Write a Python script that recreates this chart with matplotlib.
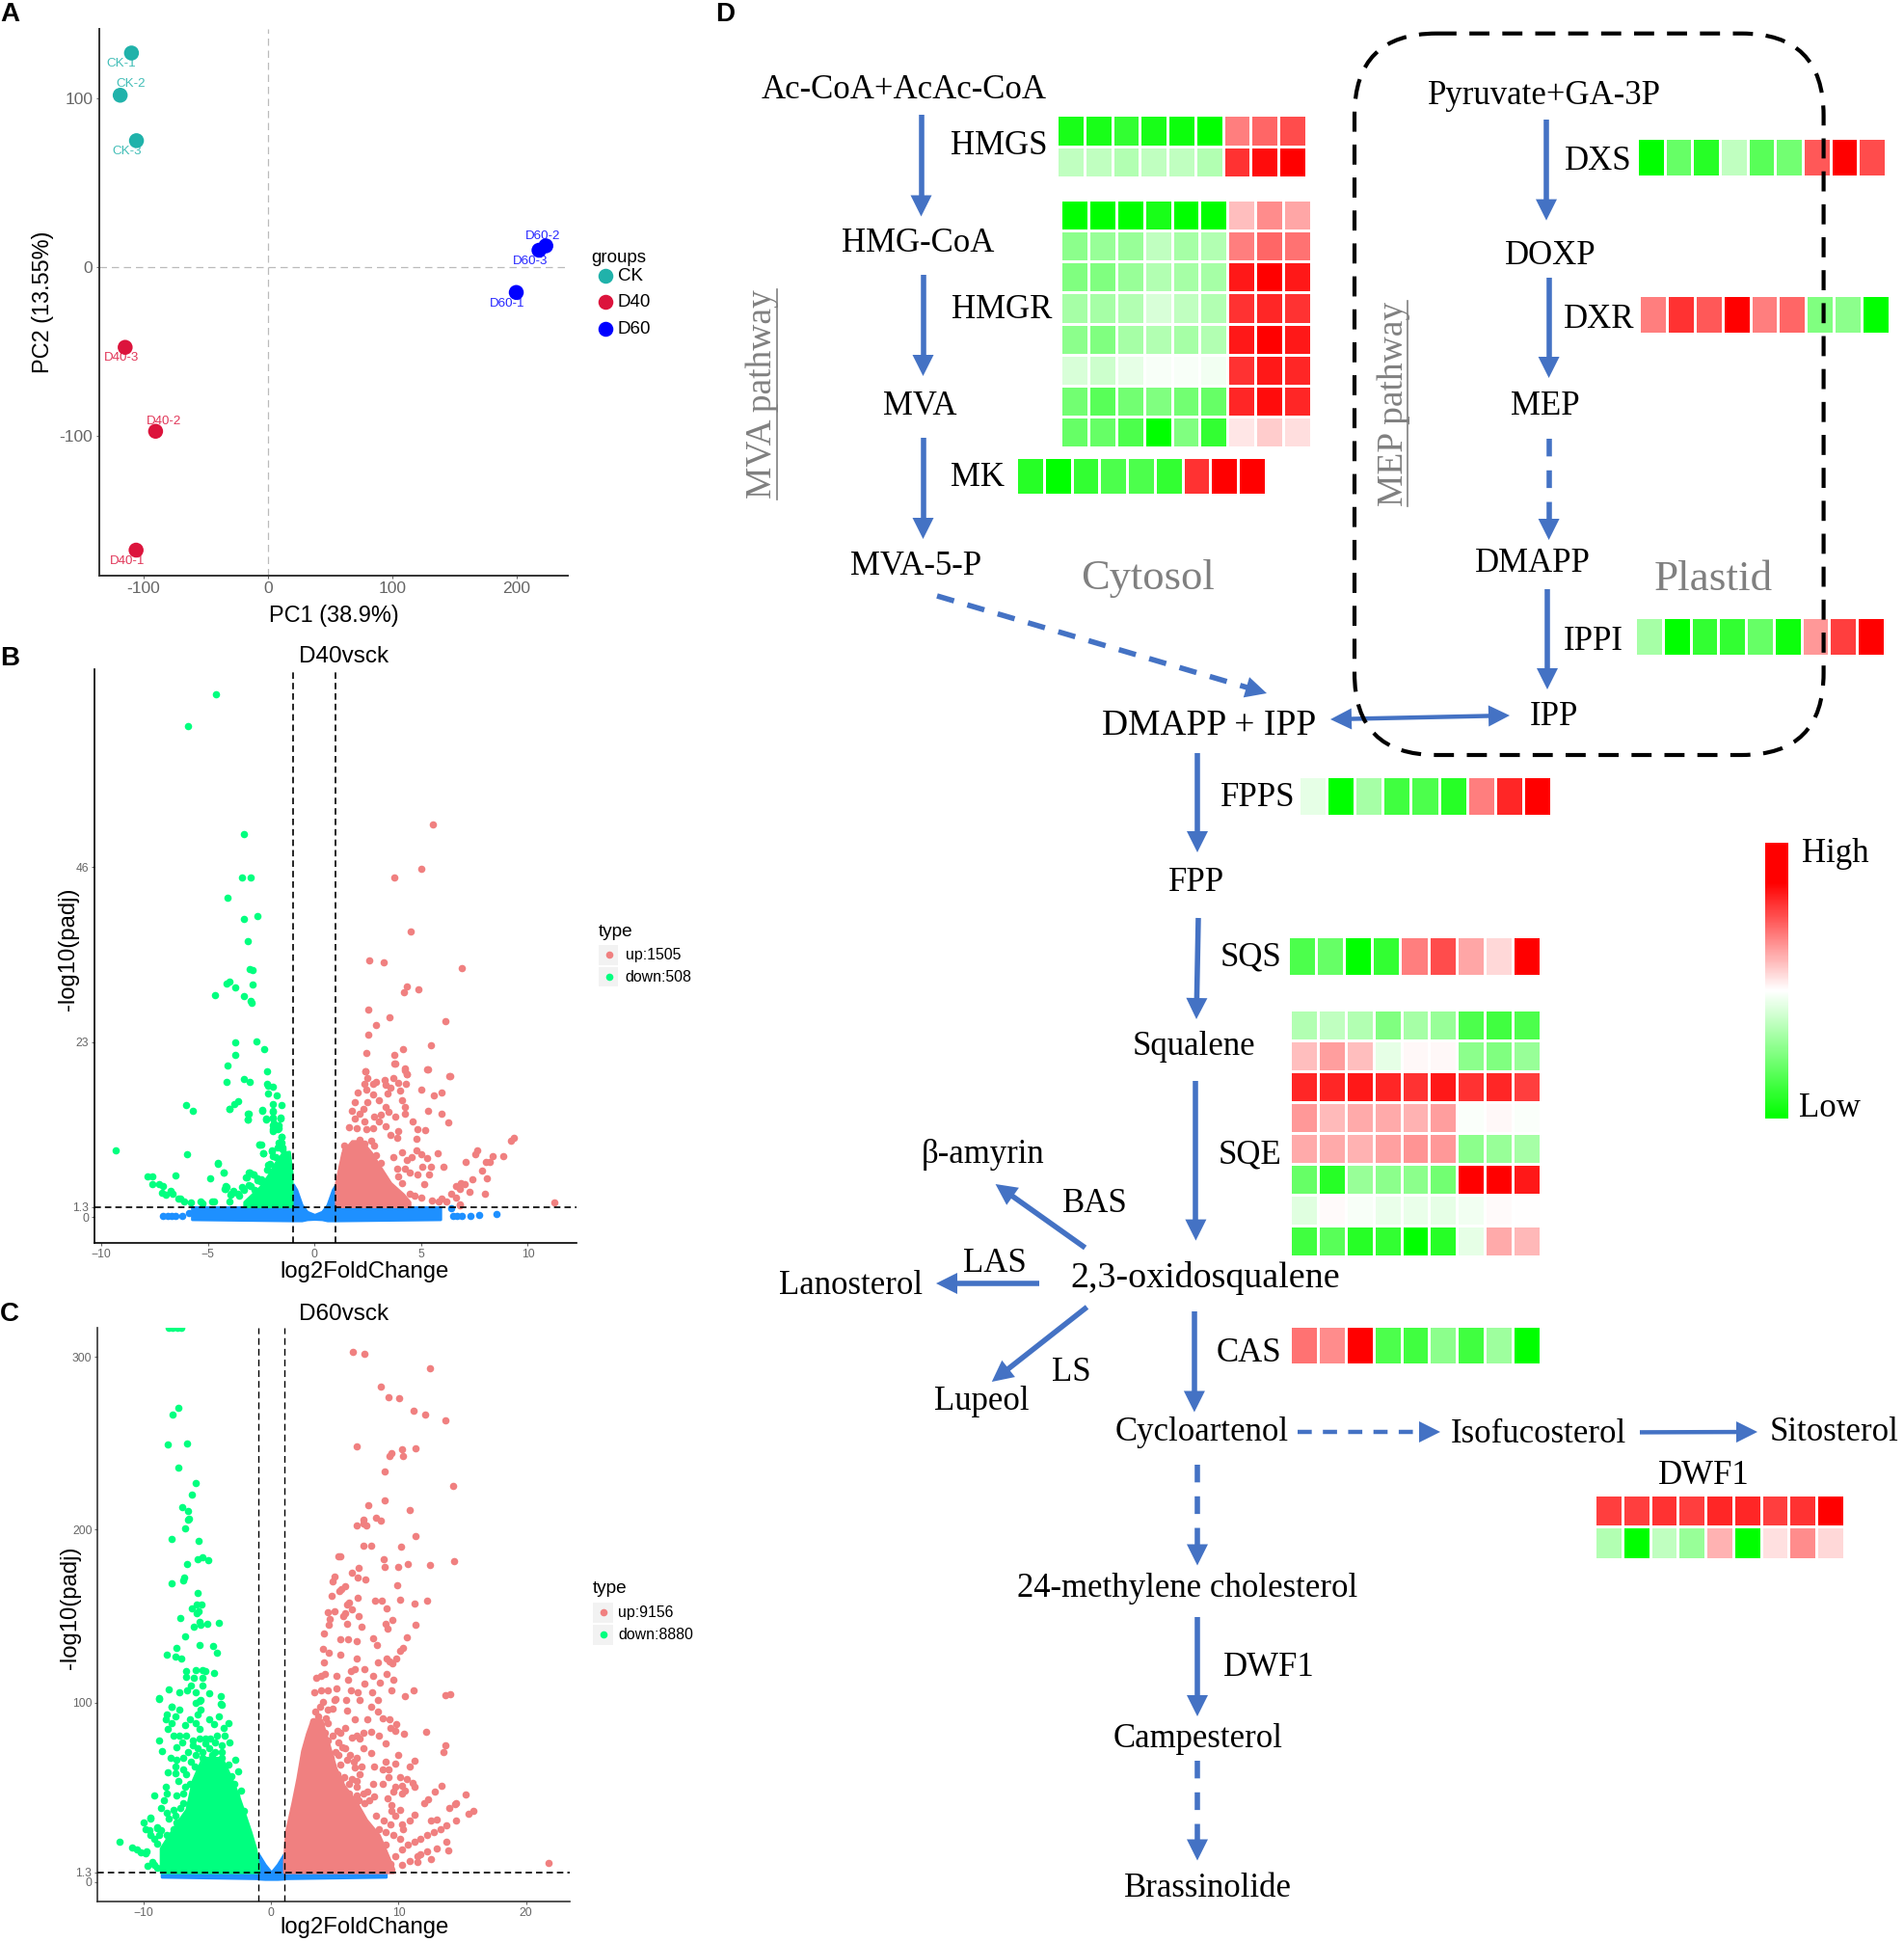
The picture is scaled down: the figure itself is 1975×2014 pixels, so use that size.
import numpy as np
import matplotlib
matplotlib.use("Agg")
import matplotlib.pyplot as plt
from matplotlib.colors import LinearSegmentedColormap
from matplotlib.patches import FancyBboxPatch, Polygon, Rectangle
from matplotlib.lines import Line2D

W, H = 1975, 2014
SANS = "Liberation Sans"
SERIF = "Liberation Serif"

# ---------- Panel A ----------
pca_names = ["CK-1", "CK-2", "CK-3", "D40-1", "D40-2", "D40-3", "D60-1", "D60-2", "D60-3"]
pca_pc1 = [-109.7, -118.8, -105.7, -106, -90.3, -114.8, 200, 223.8, 218.3]
pca_pc2 = [126.9, 101.9, 75, -167.5, -97.1, -47.4, -14.9, 12.7, 10.1]
pca_lab_x = [-117.7, -110.4, -113.3, -113.3, -83.7, -117.7, 192.7, 221.6, 211]
pca_lab_y = [120.7, 108.4, 68.7, -174, -91.1, -53.6, -21.4, 18.5, 3.8]
pca_groups = ["CK", "CK", "CK", "D40", "D40", "D40", "D60", "D60", "D60"]
group_colors = {"CK": "#20B2AA", "D40": "#DC143C", "D60": "#0000FF"}

# ---------- Panel B ----------
b_down = [(-4.63,68.7),(-5.93,64.5),(-3.33,50.3),(-3.42,44.6),(-2.99,44.6),(-4.10,41.9),(-3.31,39.2),(-2.67,39.5),
 (-3.14,36.2),(-3.05,32.6),(-2.92,32.5),(-4.14,30.7),(-3.97,30.9),(-3.71,30.2),(-2.92,30.5),(-4.65,29.1),(-3.29,29.0),
 (-3.01,28.4),(-2.97,28.1),(-3.71,22.9),(-2.73,23.1),(-2.37,22.1),(-3.71,21.3),(-4.06,19.9),(-2.22,19.2),(-3.33,18.1),
 (-3.03,17.7),(-4.12,17.8),(-2.22,17.5),(-2.16,17.3),(-1.94,17.1),(-2.16,16.2),(-1.77,16.0),(-3.59,15.2),(-3.78,14.9),
 (-3.97,14.2),(-6.04,14.7),(-5.70,14.0),(-1.94,14.9),(-1.56,14.7),(-2.45,14.1),(-1.94,14.0),(-3.09,13.6),(-3.12,12.8),
 (-2.26,12.9),(-1.94,13.1),(-1.58,13.1),(-1.90,12.3),(-1.69,12.0),(-1.94,11.5),(-1.73,11.6),(-1.56,10.5),(-1.69,9.8),
 (-1.52,9.2),(-2.58,9.5),(-2.50,9.5),(-9.31,8.8),(-5.98,8.2),(-4.53,7.1),(-2.41,8.4),(-2.01,8.6),(-1.84,7.9),(-2.16,6.8),
 (-6.51,5.5),(-7.85,5.3),(-7.60,5.3),(-4.27,5.8),(-4.87,5.1),(-3.05,5.9),(-2.84,5.6),(-3.22,5.2),(-2.69,5.1),(-2.48,4.9),
 (-7.60,4.3),(-7.28,4.3),(-7.11,4.1),(-4.14,4.0),(-4.18,3.7),(-3.82,3.4),(-3.91,3.1),(-7.17,3.2),(-6.75,3.4),(-6.96,2.9),
 (-6.64,3.0),(-6.30,2.4),(-6.10,2.1),(-5.79,1.9),(-5.36,2.0),(-5.25,1.8),(-4.82,2.0),(-6.4,2.4),(-3.6,3.0),(-3.3,3.6),(-3.1,4.2),(-2.8,3.6)]
b_down_dense = [(-3.98,14.2),(-3.12,13.6),(-3.12,12.8),(-2.47,14),(-1.94,13.8),(-1.94,13),(-1.61,13),(-2.27,12.8),(-1.94,12.1),
 (-1.94,11.3),(-1.67,11.7),(-1.56,10.5),(-1.56,9.8),(-1.72,9.2),(-1.49,8.95),(-2.57,9.5),(-2.39,8.4),(-2.02,8.7),(-1.97,8),
 (-4.53,7),(-4.25,5.8),(-2.09,7),(-2.24,6.2),(-3.07,5.9),(-3.18,5.2),(-2.85,5.6),(-2.7,4.85),(-4.17,4.1),(-4.23,3.7),(-3.42,4),
 (-3.82,3.3),(-3.93,2.9),(-3.52,2.8),(-3.98,2),(-4.73,2),(-3,4.1),(-2.54,4.7)]
b_up = [(5.53,51.6),(4.99,45.7),(3.76,44.6),(4.53,37.5),(2.56,33.7),(3.24,33.5),(6.92,32.7),(4.35,30.3),(4.18,29.5),
 (4.87,29.9),(2.54,27.3),(3.50,26.3),(2.88,25.2),(6.15,25.7),(2.50,24.0),(5.46,22.6),(4.14,22.1),(3.74,21.3),(2.41,21.6),
 (3.78,20.1),(4.25,19.5),(4.35,18.8),(2.39,19.1),(5.31,19.4),(6.34,18.5),(9.35,10.4),(9.2,10),(11.25,1.9),(6.81,1.6)]
b_up_dense = [(2.4,19.1),(2.47,18.2),(2.35,17.5),(2.73,17.5),(2.88,17.7),(2.43,16.8),(2.02,16.4),(2.73,16.1),(1.87,15.1),(1.75,13.9),
 (2.28,14.2),(2.13,13.6),(2.47,15.1),(3.03,15.3),(3.33,14.4),(3.48,13.8),(1.9,13),(2.35,12.5),(2.8,13.2),(3.11,13.4),(3.03,12.5),
 (2.73,11.7),(1.6,11.8),(1.97,11.7),(2.43,11.5),(3.33,11.9),(3.78,13.2),(4.24,13.6),(4.61,12.5),(3.93,11.3),(3.56,10.8),(3.86,10.4),
 (2.13,10.2),(2.65,10),(2.35,9.6),(2.8,9.4),(1.37,9.4),(1.45,8.7),(2.05,9.2),(4.08,8.5),(3.71,7.9),(2.88,8.1),(3.11,7.1),(4.76,10.3),
 (4.84,11.5),(5.18,11.4),(4.79,8.8),(4.99,8.3),(5.29,7.8),(4.54,7.9),(4.31,7.5),(5.44,6.6),(5.06,6.6),(4.24,6.4),(3.86,6.4),(3.93,5.4),
 (4.08,4.5),(4.46,5.8),(4.84,5.6),(5.37,5.6),(5.14,4.3),(6.04,6.6),(5.79,8.4),(7.1,7.2),(7.63,8.7),(7.55,8.3),(8.05,7.2),(8.35,8),
 (8.83,8),(8.23,7.3),(7.85,6.1),(8.08,5.1),(7.4,4.9),(6.87,4.5),(6.65,4.1),(7.02,4.3),(7.25,3.3),(6.8,3.7),(7.97,3),(6.42,3),(6.65,2.6),
 (5.97,2.4),(6.19,2),(5.52,2.2),(5.82,2),(4.99,2.6),(4.69,2.8),(4.46,3),(5.34,14),(5.97,13.6),(6.27,12.4),(6.3,18.5),(5.97,16.3),
 (5.59,16),(4.99,16.7),(5.29,19.4),(4.24,19.3),(4.31,18.8),(3.71,18.2),(3.29,18),(3.33,17.4),(3.93,17.6),(4.28,17.5),(4,16.6),(3.56,17),
 (3.41,16.2),(4.08,15.3),(4.24,14.4),(3.75,20.1),(6.83,1.7)]
b_blue = [(-7.1,0.2),(-6.9,0.2),(-6.7,0.15),(-6.5,0.15),(-6.2,0.2),(-5.9,0.5),(6.4,1.2),(6.5,0.2),(6.7,0.2),(6.9,0.2),(7.3,0.2),(7.7,0.3),(8.55,0.4)]
b_down_env_x = [-3.3, -2.85, -2.55, -2.17, -1.87, -1.49, -1.19, -1.07]
b_down_env_y = [2.0, 3.2, 4.0, 5.5, 7.0, 8.5, 8.6, 5.8]
b_up_env_x = [1.0, 1.3, 1.75, 2.2, 2.65, 3.1, 3.56, 4.16, 4.46]
b_up_env_y = [4.5, 8.5, 10.0, 10.0, 8.5, 6.5, 4.5, 3.0, 2.0]
b_blue_x = [-5.75, -1.05, -1.0, -0.85, -0.6, -0.35, 0.0, 0.35, 0.6, 0.85, 1.0, 1.05, 5.9]
b_blue_top = [1.3, 1.3, 4.3, 3.6, 1.6, 0.7, 0.3, 0.7, 1.6, 3.6, 4.3, 1.3, 1.3]
b_blue_bot = [-0.3, -0.45, -0.45, -0.45, -0.45, -0.3, -0.25, -0.3, -0.45, -0.45, -0.45, -0.45, -0.3]

# ---------- Panel C ----------
c_down = [(-8.07,318),(-7.71,318),(-7.36,318),(-7.07,318),(-7.29,270.9),(-7.75,266.6),(-8.11,249.5),(-6.61,249.8),(-7.32,235.8),
 (-5.93,227.2),(-6.25,220.4),(-6.96,213.2),(-6.5,210.6),(-6.43,206.5),(-6.54,205.8),(-6.79,200.7),(-7.82,194.7),(-5.71,193.5),
 (-5.79,182.7),(-5.39,184.1),(-4.96,182.2),(-6.64,180.3),(-6.82,172.1),(-6.89,170.7),(-7.82,169),(-5.75,163.2),(-5.86,156.5),
 (-5.46,156.5),(-6.25,154.6),(-5.68,152.9),(-5.86,151.7),(-7.11,148.6),(-5.64,146.4),(-6.11,143.8),(-5,145.7),(-5.57,145),
 (-4.11,146.2),(-6.79,138.5),(-5.61,133.4),(-4.57,132.5),(-7.43,131.7),(-4.29,128.8),(-8.21,127.6),(-7.5,126.4),(-7.07,125.2),
 (-6.71,118),(-6.71,114.9),(-5.93,118.8),(-5.39,118.8),(-5.14,118),(-4.5,116.8),(-6.11,114.4),(-5.39,114.4),(-6.64,107.2),
 (-7.18,106),(-8.07,107.7),(-8.82,102.4),(-6.29,109.6),(-5.93,106),(-5.39,109.6),(-4.86,105.3),(-3.96,103.6),(-3.89,98.8),
 (-7.79,97.6),(-5.57,101.2),(-5.93,100),(-11.93,19),(-10.93,15.9),(-10.57,14.7),(-10.21,13),(-9.86,12.3),(-9.32,7.5),(-8.96,3.8),
 (-10.04,30.3),(-9.5,32.7),(-9.86,26.2),(-8.96,27.2),(-8.79,23.1),(-9.5,23.1)]
c_down_dense = [(-8.81,102.2),(-7.80,97.5),(-7.22,95.6),(-8.17,92.9),(-7.54,91.9),(-8.30,90.1),(-7.80,88.2),(-8.12,84.5),(-6.41,90.4),
 (-6.79,86.7),(-5.9,88.2),(-5.65,84.5),(-4.9,90.1),(-4.14,91.9),(-3.76,85.4),(-3.38,88.2),(-4.52,87.3),(-5.53,95.6),(-5.78,92.9),
 (-5.65,100.9),(-3.94,99),(-8.81,77.9),(-8.55,72),(-7.67,80.7),(-7.22,80.7),(-6.66,80.7),(-6.96,77),(-7.42,73.9),(-6.16,77.9),
 (-6.54,71.4),(-5.78,73.3),(-5.15,76.1),(-4.39,77),(-3.64,80.7),(-3.26,77),(-3.89,71.4),(-7.92,68.1),(-7.42,66.8),(-7.54,63),
 (-8.10,59.3),(-7.54,58.8),(-6.91,67.7),(-6.91,61.2),(-6.28,65.8),(-5.40,67.7),(-4.64,69.6),(-4.14,65.8),(-3.38,64),(-2.8,66.8),
 (-2.58,59.9),(-6.66,58.4),(-7.29,54.3),(-6.79,50.9),(-9.18,46.3),(-8.30,50.9),(-8.17,47.2),(-8.43,43.5),(-7.42,46.3),(-6.91,47.2),
 (-6.91,41.6),(-6.41,52.8),(-6.16,45.4),(-3.26,55.6),(-2.88,52.8),(-2.38,49.1),(-8.68,38.8),(-8.17,36),(-7.67,37.9),(-7.17,38.8),
 (-9.49,33.2),(-8.05,32.7),(-7.54,34.2),(-7.04,31.4),(-8.93,27.6),(-9.56,25.8),(-8.68,25.8),(-9.18,21.1),(-9.81,13.7),(-8.93,18.3),
 (-8.17,23),(-7.67,26.7),(-7.42,30.4),(-9.18,6),(-9.69,5.3),(-2.12,37),(-2.75,46.3),(-6.79,28.6),
 (-6.16,75.2),(-5.65,78.9),(-5.15,78.9),(-4.77,78.9),(-4.27,80.7),(-3.89,75.2),(-5.9,69.6),(-5.4,71.4),(-4.9,73.3),(-4.39,71.4),
 (-3.89,67.7),(-6.03,63),(-5.53,62.1),(-4.77,63),(-4.27,61.2),(-3.64,60.3),(-3.13,57.5)]
c_up = [(6.43,303.1),(7.32,301.9),(12.43,293.5),(8.61,282.9),(9.21,276.7),(10.07,276.4),(11.21,269),(12.11,266.6),(13.64,263.5),
 (6.71,248.3),(10.25,246.6),(11.36,247.1),(9.43,244.2),(9.25,242.5),(10.32,242.5),(8.93,233.9),(14.29,225.5),(8.93,217.1),
 (7.61,214.2),(10.86,211.1),(8.25,207),(8.61,205),(7.21,205.8),(6.68,202.6),(7.21,203.4),(7.5,202.6),(11.32,196.4),(7.25,190.6),
 (7.82,190.6),(10.18,190.4),(5.29,184.4),(5.39,184.4),(8.82,182.9),(14.36,182),(10.71,180),(10,178.4),(8.89,178.6),(12.43,179.8),
 (6.86,177.8),(6.36,175.2),(6.75,172.1),(7.36,170.9),(4.96,172.8),(4.79,170.2),(9.89,167.8),(5.32,164.4),(5.79,167),(5.5,165.4),
 (4.71,161.8),(6.82,160.8),(8.18,158.9),(8.64,159.1),(10.11,159.6),(11.25,157.2),(12.21,158.7),(6.14,157.7),(5.93,156.5),
 (6.32,154.1),(5.79,151.7),(5.68,150),(4.96,152.9),(4.43,152.4),(4.61,148.1),(9.07,154.6),(6.86,150),(9.5,148),(9,145.7),
 (9.14,142.8),(7.11,144),(5.93,145.4),(4.54,144.7),(11.32,144.7),(4.11,139.7),(5.46,136.5),(6.04,136.5),(8,137.3),(8.29,133.4),
 (10.61,137.5),(6.68,135.4),(10.14,130),(10.32,131.7),(4.04,130.8),(4.5,128.8),(5.46,127.4),(4.14,123.3),(6.71,125.2),(9.07,125.2),
 (9.79,125.2),(9.25,124),(9.5,122.8),(8.36,123.3),
 (6.57,119.2),(6.29,118),(7.29,119.2),(4.21,116.3),(3.54,114.4),(3.89,115.6),(5.14,115.6),(6.04,113.2),(8,115.6),(9.07,116.3),
 (8.54,111.5),(9.61,113.2),(7.29,110.8),(6.29,107.2),(3.36,106),(3.89,107.2),(4.43,107.2),(5.14,108.4),(6.75,106),(7.93,106),
 (9.43,107.2),(10.46,103.6),(11.14,107),(13.64,104.3),(14.07,104.6),(8.36,101.2),(5.86,101.2),(6.93,101.2),(4.96,101.2),(21.75,6.7)]
c_up_dense = [(3.42,94.7),(3.80,97.5),(4.05,100.3),(4.43,95.6),(4.81,96.6),(5.06,102.2),(5.95,95.3),(3.68,91.9),(4.31,91),(3.93,87.3),
 (3.42,85.4),(4.43,88.2),(3.30,89.1),(5.19,83.5),(5.82,85.4),(5.44,82.6),(6.58,90.1),(7.58,90.4),(8.72,91),(9.27,90.4),(7.84,97.5),
 (8.34,94.7),(9.85,87.3),(9.35,85),(9.73,83.5),(10.43,81.7),(12.12,83.2),(13.69,75.2),(13.51,71.4),(6.70,80.7),(7.21,82.6),(7.84,83),
 (8.47,80.7),(8.97,76.5),(6.95,78.9),(6.32,79.8),(5.31,77),(5.82,73.3),(7.21,73.3),(7.84,70.5),(9.93,69.6),(6.70,67.7),(5.31,69.6),
 (4.68,67.7),(3.93,75.2),(3.55,78.9),(3.17,80.7),(11.24,66.2),(10.86,63),(9.73,64.3),(8.97,65.8),(8.09,63),(8.72,61.2),(9.22,61.2),
 (7.08,63),(6.58,62.1),(5.95,66.8),(5.44,64),(9.22,56.5),(10.1,56.5),(10.61,55.6),(11.11,53.2),(9.73,51.3),(10.23,51.9),(13.38,51.5),
 (12.83,48.5),(11.24,50.9),(10.48,49.1),(8.72,52.8),(7.96,52.8),(6.70,54.7),(6.32,55.6),(5.44,54.7),(4.68,50.9),(7.58,48.1),(9.6,48.1),
 (10.23,47.2),(12,41.6),(12.3,43.9),(14.01,38.8),(14.47,41.6),(9.10,44.4),(9.47,40.7),(8.09,45.4),(7.71,43.5),(6.70,46.3),(6.07,47.2),
 (5.31,49.1),(7.33,41.6),(6.83,43.5),(9.47,37),(10.1,37.9),(9.73,34.2),(11.24,35.1),(10.86,31.4),(10.23,29.5),(13,32.3),(12.5,31.4),
 (14.52,31.4),(13.76,28.6),(13.26,26.7),(12.75,24.9),(12.25,23),(11.74,21.1),(11.24,19.3),(10.74,17.4),(10.23,14.6),(9.73,10.9),
 (8.21,34.2),(8.84,31.4),(9.35,29.5),(10.36,26.7),(8.97,24.9),(8.47,26.7),(9.6,23),(10.1,21.1),(13.76,18.9),(13,15.5),(13.89,14),
 (12.25,13.7),(11.74,11.8),(11.49,10.5),(10.86,7.7),(11.49,7.2),(12.5,9),(9.35,6.2),(10.23,5.8),(8.21,21.1),(8.97,17.4),
 (15.29,46.6),(15.86,37),(15.5,35.6),(14.43,41.1),
 (2.92,78.9),(3.3,83.5),(3.68,81.7),(4.18,82.6),(4.81,80.7),(4.43,78),(5.06,71.4),(5.57,74.2),(6.2,69.6),(6.45,65.8),(6.95,58.4),
 (5.69,56.5),(5.19,58.4),(6.07,52.8),(6.7,50.9),(7.21,47.2),(5.69,45.4)]
c_down_env_x = [-8.68, -7.42, -6.66, -6.16, -5.40, -3.89, -3.38, -2.63, -2.12, -1.62, -1.24, -1.0]
c_down_env_y = [15.5, 30, 38, 55, 68, 68, 60, 47, 36, 25, 15.5, 5]
c_up_env_x = [1.0, 1.15, 1.66, 2.04, 2.41, 2.79, 3.17, 3.93, 4.43, 5.06, 5.69, 6.7, 7.46, 8.47, 9.22, 9.6]
c_up_env_y = [8, 24.9, 42, 56, 72, 82, 90, 90, 78, 62, 52, 42, 32, 23, 10, 3.4]
c_blue_x = [-8.6, -1.05, -1.0, -0.5, 0.0, 0.5, 1.0, 1.05, 9.0]
c_blue_top = [1.3, 1.3, 12, 6, 1.4, 6, 12, 1.3, 1.3]
c_blue_bot = [0.7, 0.5, 0.45, 0.4, 0.4, 0.4, 0.45, 0.5, 0.7]

# ---------- Panel D heatmap values (-1 green, 0 white, +1 red) ----------
hmgs = [[-.9,-.9,-.8,-.9,-.95,-1,.5,.6,.7],
        [-.25,-.25,-.3,-.25,-.25,-.3,.8,.95,1]]
hmgr = [[-1,-1,-1,-.9,-1,-1,.25,.45,.35],
        [-.45,-.4,-.4,-.25,-.35,-.3,.5,.6,.55],
        [-.5,-.5,-.4,-.3,-.35,-.35,.9,1,.9],
        [-.35,-.35,-.3,-.15,-.25,-.3,.8,.85,.8],
        [-.45,-.5,-.35,-.3,-.35,-.3,.9,1,.9],
        [-.15,-.2,-.1,-.03,-.03,-.05,.8,.9,.85],
        [-.55,-.65,-.55,-.5,-.55,-.6,.85,.95,.85],
        [-.6,-.6,-.7,-1,-.5,-.8,.1,.2,.13]]
mk = [[-.85,-1,-.8,-.7,-.7,-.8,.8,1,1]]
dxs = [[-1,-.6,-.85,-.25,-.65,-.55,.65,1,.7]]
dxr = [[.5,.8,.65,1,.5,.6,-.5,-.45,-1]]
ippi = [[-.35,-1,-.8,-.8,-.6,-.95,.4,.75,1]]
fpps = [[-.1,-1,-.35,-.75,-.7,-.85,.5,.85,1]]
sqs = [[-.7,-.6,-1,-.8,.5,.7,.35,.15,1]]
sqe = [[-.3,-.25,-.3,-.5,-.35,-.4,-.7,-.75,-.7],
       [.25,.38,.25,-.1,.03,.03,-.45,-.5,-.4],
       [.85,.85,.9,.85,.8,.9,.8,.85,.75],
       [.4,.27,.33,.33,.3,.38,-.02,.03,-.02],
       [.33,.33,.3,.37,.42,.4,-.45,-.4,-.35],
       [-.6,-.85,-.4,-.45,-.45,-.55,1,1,.9],
       [-.12,.02,-.03,-.08,-.08,-.1,-.05,.02,0],
       [-.75,-.65,-.85,-.8,-1,-.85,-.1,.33,.28]]
cas = [[.55,.45,1,-.7,-.75,-.45,-.75,-.38,-1]]
dwf1 = [[.75,.75,.8,.75,.85,.85,.75,.8,1],
        [-.3,-1,-.25,-.4,.3,-1,.12,.45,.15]]

ARROW = "#4472C4"
PT = 30
cmap = LinearSegmentedColormap.from_list("gwr", ["#00FF00", "#FFFFFF", "#FF0000"])

fig = plt.figure(figsize=(W / 100, H / 100), dpi=100, facecolor="white")


def axes_px(left, top, right, bottom):
    return fig.add_axes([left / W, 1 - bottom / H, (right - left) / W, (bottom - top) / H])


def style(ax, spine_col, lw, tick_size, tick_col, tlen):
    for s in ("top", "right"):
        ax.spines[s].set_visible(False)
    for s in ("left", "bottom"):
        ax.spines[s].set_color(spine_col)
        ax.spines[s].set_linewidth(lw)
    ax.tick_params(labelsize=tick_size, labelcolor=tick_col, color=tick_col, length=tlen, width=0.8, pad=2)
    for t in ax.get_xticklabels() + ax.get_yticklabels():
        t.set_fontfamily(SANS)


def labels(ax, box, xl, xpos, yl, ypos, size):
    left, top, right, bottom = box
    ax.set_xlabel(xl, fontsize=size, family=SANS, va="center", ha="center")
    ax.set_ylabel(yl, fontsize=size, family=SANS, va="center", ha="center")
    ax.xaxis.set_label_coords((xpos[0] - left) / (right - left), (bottom - xpos[1]) / (bottom - top))
    ax.yaxis.set_label_coords((ypos[0] - left) / (right - left), (bottom - ypos[1]) / (bottom - top))


def title(ax, box, text, pos, size=17.5):
    left, top, right, bottom = box
    ax.text((pos[0] - left) / (right - left), (bottom - pos[1]) / (bottom - top), text, transform=ax.transAxes,
            fontsize=size, family=SANS, ha="center", va="center", clip_on=False)


# Panel A
box_a = (102.5, 30.3, 589, 596.8)
ax = axes_px(*box_a)
ax.set_xlim(-136, 241.5)
ax.set_ylim(-182.5, 141)
ax.axhline(0, color="#BBBBBB", lw=0.9, ls=(0, (6, 4)), zorder=1)
ax.axvline(0, color="#BBBBBB", lw=0.9, ls=(0, (6, 4)), zorder=1)
ax.scatter(pca_pc1, pca_pc2, s=125, c=[group_colors[g] for g in pca_groups], linewidths=0, zorder=3)
for n, x, y, g in zip(pca_names, pca_lab_x, pca_lab_y, pca_groups):
    ax.text(x, y, n, color=group_colors[g], fontsize=9.6, family=SANS, ha="center", va="center", alpha=0.85, zorder=4)
ax.set_xticks([-100, 0, 100, 200])
ax.set_xticklabels(["-100", "0", "100", "200"])
ax.set_yticks([-100, 0, 100])
ax.set_yticklabels(["-100", "0", "100"])
style(ax, "#333333", 1.4, 12.6, "#666666", 2.5)
labels(ax, box_a, "PC1 (38.9%)", (346, 638), "PC2 (13.55%)", (44, 313), 16.9)

# Panel B
box_b = (97.7, 693.8, 597.7, 1289)
ax = axes_px(*box_b)
ax.set_xlim(-10.33, 12.27)
ax.set_ylim(-3.4, 72)
ax.fill_between(b_blue_x, b_blue_bot, b_blue_top, color="#1E90FF", lw=2, zorder=2)
ax.scatter(*zip(*b_blue), s=PT, c="#1E90FF", linewidths=0, zorder=2)
ax.fill_between(b_down_env_x, 1.4, b_down_env_y, color="#00FF7F", lw=2, zorder=3)
ax.fill_between(b_up_env_x, 1.4, b_up_env_y, color="#F08080", lw=2, zorder=3)
ax.scatter(*zip(*(b_down + b_down_dense)), s=PT, c="#00FF7F", linewidths=0, zorder=3)
ax.scatter(*zip(*(b_up + b_up_dense)), s=PT, c="#F08080", linewidths=0, zorder=3)
for v in (-1, 1):
    ax.axvline(v, color="black", lw=1.2, ls=(0, (4, 2.5)), zorder=5)
ax.axhline(1.3, color="black", lw=1.2, ls=(0, (4, 2.5)), zorder=5)
ax.set_xticks([-10, -5, 0, 5, 10])
ax.set_xticklabels(["\u221210", "\u22125", "0", "5", "10"])
ax.set_yticks([0, 1.3, 23, 46])
ax.set_yticklabels(["0", "1.3", "23", "46"])
style(ax, "black", 1.2, 8.7, "#666666", 2)
labels(ax, box_b, "log2FoldChange", (377.7, 1319.5), "-log10(padj)", (71, 984), 17.2)
title(ax, box_b, "D40vsck", (356.5, 681))


# Panel C: the tick spacing below 1.3 is stretched, so the y axis is piecewise
c_knots_val = [-2.66, 0, 1.3, 100, 200, 300, 317.3]
c_knots_pos = [-47, 0, 23, 433, 850, 1266, 1338]


def c_fwd(v):
    v = np.asarray(v, dtype=float)
    return np.interp(v, c_knots_val, c_knots_pos)


def c_inv(p):
    p = np.asarray(p, dtype=float)
    return np.interp(p, c_knots_pos, c_knots_val)


box_c = (101, 1376.5, 591, 1972)
ax = axes_px(*box_c)
ax.set_yscale("function", functions=(c_fwd, c_inv))
ax.set_xlim(-13.64, 23.43)
ax.set_ylim(-2.66, 317.3)
ax.fill_between(c_blue_x, c_blue_bot, c_blue_top, color="#1E90FF", lw=2, zorder=2)
ax.fill_between(c_down_env_x, 1.4, c_down_env_y, color="#00FF7F", lw=2, zorder=3)
ax.fill_between(c_up_env_x, 1.4, c_up_env_y, color="#F08080", lw=2, zorder=3)
ax.scatter(*zip(*(c_down + c_down_dense)), s=PT, c="#00FF7F", linewidths=0, zorder=3)
ax.scatter(*zip(*(c_up + c_up_dense)), s=PT, c="#F08080", linewidths=0, zorder=3)
for v in (-1, 1):
    ax.axvline(v, color="black", lw=1.0, ls=(0, (5, 3)), zorder=5)
ax.axhline(1.3, color="black", lw=1.2, ls=(0, (4, 2.5)), zorder=5)
ax.set_xticks([-10, 0, 10, 20])
ax.set_xticklabels(["\u221210", "0", "10", "20"])
ax.set_yticks([0, 1.3, 100, 200, 300])
ax.set_yticklabels(["0", "1.3", "100", "200", "300"])
ax.minorticks_off()
style(ax, "#333333", 1.2, 8.7, "#666666", 2)
labels(ax, box_c, "log2FoldChange", (377.7, 1999), "-log10(padj)", (73, 1667), 17.2)
title(ax, box_c, "D60vsck", (356.5, 1363))

# Overlay in image pixels: panel D, hand-placed legends, panel letters
ov = fig.add_axes([0, 0, 1, 1], zorder=10)
ov.set_xlim(0, W)
ov.set_ylim(H, 0)
ov.axis("off")
ov.patch.set_alpha(0)


def T(x, y, s, size=25, color="black", family=SERIF, **kw):
    kw.setdefault("ha", "center")
    kw.setdefault("va", "center")
    ov.text(x, y, s, fontsize=size, color=color, family=family, **kw)


def arrow(x0, y0, x1, y1, dashed=False, both=False, head_l=22, head_w=22, lw=4.0):
    start, end = np.array([x0, y0], float), np.array([x1, y1], float)
    u = (end - start) / np.hypot(*(end - start))
    a, b = start.copy(), end - u * head_l * 0.9
    if both:
        a = start + u * head_l * 0.9
    ls = (0, (3.3, 2.6)) if dashed else "-"
    ov.add_line(Line2D([a[0], b[0]], [a[1], b[1]], color=ARROW, lw=lw, ls=ls, solid_capstyle="butt"))
    for tip, d in ([(end, u), (start, -u)] if both else [(end, u)]):
        base = tip - d * head_l
        nn = np.array([-d[1], d[0]])
        ov.add_patch(Polygon([tip, base + nn * head_w / 2, base - nn * head_w / 2], closed=True, color=ARROW, lw=0))


def heat(values, x0, x1, y0, y1):
    v = np.array(values, float)
    xs = np.linspace(x0, x1, v.shape[1] + 1)
    ys = np.linspace(y0, y1, v.shape[0] + 1)
    ov.pcolormesh(xs, ys, v, cmap=cmap, vmin=-1, vmax=1, edgecolors="white", linewidth=1.0)


ov.add_patch(FancyBboxPatch((1405, 34.7), 486.6, 748.3, boxstyle="round,pad=0,rounding_size=85",
                            fc="none", ec="black", lw=3.0, ls=(0, (5.0, 3.2)), zorder=6))

heat(hmgs, 1096, 1355, 119, 184)
heat(hmgr, 1100, 1360, 207, 464)
heat(mk, 1054, 1313, 473.5, 513)
heat(dxs, 1698, 1956, 143, 182.6)
heat(dxr, 1700, 1960, 306, 346)
heat(ippi, 1696, 1955, 640, 680)
heat(fpps, 1347, 1609, 805, 846)
heat(sqs, 1336, 1598, 971, 1012)
heat(sqe, 1338, 1598, 1047, 1303)
heat(cas, 1338, 1598, 1375, 1415)
heat(dwf1, 1654, 1913, 1550, 1616.5)

# colour key
key_vals = np.concatenate([np.ones(40), np.linspace(1, 0, 110), np.linspace(0, -1, 130)]).reshape(-1, 1)
ov.pcolormesh([1831, 1855], np.linspace(874, 1160, key_vals.shape[0] + 1), key_vals, cmap=cmap, vmin=-1, vmax=1)
T(1904, 885.5, "High", 25)
T(1898, 1149.5, "Low", 25)

arrow(955.5, 119, 955.5, 224.5)
arrow(957.5, 285, 957.5, 390)
arrow(957.5, 454, 957.5, 559)
arrow(1604, 124, 1604, 228.6)
arrow(1606.6, 288, 1606.6, 392)
arrow(1606.6, 455, 1606.6, 560, dashed=True)
arrow(1605, 611, 1605, 715)
arrow(1380, 746, 1566, 742, both=True, lw=3.2)
arrow(972, 618, 1314, 719, dashed=True)
arrow(1242, 781, 1242, 884)
arrow(1243, 952, 1241, 1057)
arrow(1240.4, 1120.7, 1240.4, 1286.6)
arrow(1125.6, 1294, 1032.6, 1228)
arrow(1077.7, 1331, 971, 1331)
arrow(1127.5, 1355.5, 1028.8, 1433)
arrow(1238.9, 1360, 1238.9, 1464.5)
arrow(1346, 1485, 1494, 1485, dashed=True, lw=3.2)
arrow(1701, 1485.4, 1823, 1485, lw=3.2)
arrow(1242, 1519, 1242, 1623.5, dashed=True)
arrow(1242, 1677, 1242, 1780)
arrow(1242, 1826, 1242, 1929.5, dashed=True)

for x, y, s, fs in [
    (937.5, 94, "Ac-CoA+AcAc-CoA", 25), (1036, 152, "HMGS", 25), (952, 252.5, "HMG-CoA", 25),
    (1039, 322, "HMGR", 25), (954, 422, "MVA", 25), (1014, 496, "MK", 25), (950, 587.5, "MVA-5-P", 25),
    (1602, 100, "Pyruvate+GA-3P", 25), (1658, 168, "DXS", 25), (1608, 265.5, "DOXP", 25), (1659, 332, "DXR", 25),
    (1603, 422, "MEP", 25), (1590, 584.5, "DMAPP", 25), (1653, 665, "IPPI", 25), (1612, 743, "IPP", 25),
    (1254, 753, "DMAPP + IPP", 27), (1305, 827, "FPPS", 25), (1241, 916, "FPP", 25), (1297.6, 993, "SQS", 25),
    (1238.5, 1085.5, "Squalene", 25), (1297, 1198, "SQE", 25), (1020, 1197.5, "\u03b2-amyrin", 25), (1136, 1248.5, "BAS", 25),
    (1032, 1310.5, "LAS", 25), (883, 1333.5, "Lanosterol", 25), (1250, 1325.5, "2,3-oxidosqualene", 27.4),
    (1111.4, 1423.5, "LS", 25), (1018.4, 1453.5, "Lupeol", 25), (1295, 1403, "CAS", 25), (1247, 1486, "Cycloartenol", 25),
    (1596, 1487, "Isofucosterol", 25), (1903, 1485.5, "Sitosterol", 25), (1767, 1530.5, "DWF1", 25),
    (1232, 1648, "24-methylene cholesterol", 25), (1316, 1729, "DWF1", 25), (1243, 1804, "Campesterol", 25),
    (1253.4, 1958.5, "Brassinolide", 25)]:
    T(x, y, s, fs)

T(1190.6, 600, "Cytosol", 32, "#808080")
T(1777, 601, "Plastid", 32.5, "#808080")
T(791, 409, "MVA pathway", 27, "#808080", rotation=90)
T(1446, 419, "MEP pathway", 27, "#808080", rotation=90)
ov.add_line(Line2D([806, 806], [300, 518], color="#808080", lw=1.2))
ov.add_line(Line2D([1460, 1460], [312, 525], color="#808080", lw=1.2))

# legends
T(642, 267.5, "groups", 13.5, family=SANS)
for g, yy in zip(["CK", "D40", "D60"], [285.8, 313, 340.5]):
    ov.scatter([627.5], [yy], s=125, c=group_colors[g], linewidths=0)
    T(641, yy + 1, g, 13.5, family=SANS, ha="left")

T(621, 966.5, "type", 13.7, family=SANS, ha="left")
for txt, col, yy, r0, r1 in [("up:1505", "#F08080", 990.4, 980, 1001), ("down:508", "#00FF7F", 1013.4, 1003, 1023)]:
    ov.add_patch(Rectangle((621, r0), 20, r1 - r0, fc="#F2F2F2", ec="none"))
    ov.scatter([631.7], [yy], s=PT, c=col, linewidths=0)
    T(648.7, yy, txt, 11.4, family=SANS, ha="left")

T(614.7, 1648, "type", 13.7, family=SANS, ha="left")
for txt, col, yy, r0, r1 in [("up:9156", "#F08080", 1672, 1661.6, 1682.6), ("down:8880", "#00FF7F", 1695, 1685, 1706)]:
    ov.add_patch(Rectangle((614.7, r0), 20.8, r1 - r0, fc="#F2F2F2", ec="none"))
    ov.scatter([625.6], [yy], s=PT, c=col, linewidths=0)
    T(641, yy, txt, 11.4, family=SANS, ha="left")

for x, y, s in [(10, 15, "A"), (10, 683, "B"), (10, 1363, "C"), (752, 15, "D")]:
    T(x, y, s, 20, family=SANS, fontweight="bold")

ov.set_xlim(0, W)
ov.set_ylim(H, 0)
fig.savefig("out.png", dpi=100)
